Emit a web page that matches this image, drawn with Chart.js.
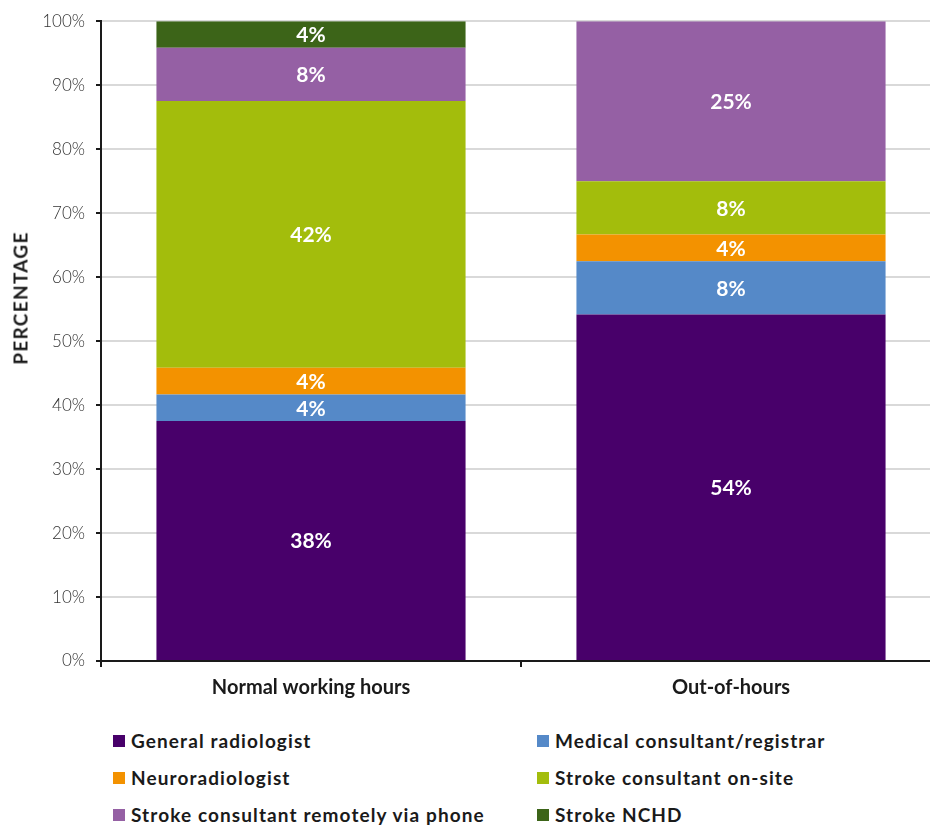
<!DOCTYPE html>
<html>
<head>
<meta charset="utf-8">
<script src="https://cdn.jsdelivr.net/npm/chart.js@4"></script>
<style>
  html, body { margin: 0; padding: 0; background: #fff; overflow: hidden; }
  body { width: 930px; height: 827px; position: relative; font-family: Lato, "Open Sans", sans-serif; }
  #wrap { position: absolute; left: 0; top: 0; width: 945px; height: 712px; }
  #ytitle {
    position: absolute; left: 20px; top: 298px;
    transform: translate(-50%, -50%) rotate(-90deg);
    font-weight: 700; font-size: 19px; letter-spacing: 1.3px; color: #1a1a1a; white-space: nowrap;
  }
  #legend {
    position: absolute; left: 113px; top: 727px;
    display: grid; grid-template-columns: 424px 380px; row-gap: 10px;
  }
  .item { display: flex; align-items: center; height: 27px; font-weight: 700; font-size: 19px; letter-spacing: 1.1px; color: #1a1a1a; }
  .box { width: 12px; height: 12px; margin-right: 6px; flex: none; }
</style>
</head>
<body>
<div id="wrap"><canvas id="chart"></canvas></div>
<div id="ytitle">PERCENTAGE</div>
<div id="legend"></div>
<script>
// Share of respondents (out of 24) per interpreter type, by time of day
const categories = ['Normal working hours', 'Out-of-hours'];
const seriesNames = [
  'General radiologist',
  'Medical consultant/registrar',
  'Neuroradiologist',
  'Stroke consultant on-site',
  'Stroke consultant remotely via phone',
  'Stroke NCHD'
];
const generalRadiologist = [37.5, 54.17];
const medicalConsultant = [4.17, 8.33];
const neuroradiologist = [4.17, 4.17];
const strokeOnSite = [41.67, 8.33];
const strokeRemote = [8.33, 25];
const strokeNCHD = [4.17, 0];
const yTicks = [0, 10, 20, 30, 40, 50, 60, 70, 80, 90, 100];

const colors = ['#48006a', '#5589c8', '#f39200', '#a3bd0c', '#9560a4', '#3c6418'];
const seriesValues = [generalRadiologist, medicalConsultant, neuroradiologist, strokeOnSite, strokeRemote, strokeNCHD];

// white percentage labels in the middle of each segment
const segmentLabels = {
  id: 'segmentLabels',
  afterDatasetsDraw(chart) {
    const ctx = chart.ctx;
    ctx.save();
    ctx.font = '700 21px Lato, sans-serif';
    ctx.fillStyle = '#ffffff';
    ctx.textAlign = 'center';
    ctx.textBaseline = 'middle';
    chart.data.datasets.forEach((ds, i) => {
      chart.getDatasetMeta(i).data.forEach((bar, j) => {
        const v = ds.data[j];
        if (!v) return;
        const y = (bar.y + bar.base) / 2;
        ctx.fillText(Math.round(v) + '%', bar.x, y + 1);
      });
    });
    ctx.restore();
  }
};

new Chart(document.getElementById('chart'), {
  type: 'bar',
  data: {
    labels: categories,
    datasets: seriesNames.map((name, i) => ({
      label: name,
      data: seriesValues[i],
      backgroundColor: colors[i],
      borderWidth: 0,
      categoryPercentage: 1,
      barPercentage: 0.736
    }))
  },
  options: {
    responsive: true,
    maintainAspectRatio: false,
    animation: false,
    layout: { padding: { top: 18, right: 4, left: 0, bottom: 0 } },
    plugins: { legend: { display: false }, tooltip: { enabled: false } },
    scales: {
      x: {
        stacked: true,
        offset: true,
        grid: { offset: true, drawOnChartArea: false, color: '#1a1a1a', tickLength: 6, lineWidth: 2 },
        border: { color: '#1a1a1a', width: 2 },
        ticks: { color: '#1a1a1a', font: { family: 'Lato', size: 20, weight: '700' }, padding: 9 },
        afterFit(scale) { scale.height = 51; }
      },
      y: {
        stacked: true,
        min: 0,
        max: 100,
        afterBuildTicks(scale) { scale.ticks = yTicks.map(v => ({ value: v })); },
        grid: { color: '#d9d9d9', lineWidth: 2, tickLength: 5, tickColor: '#1a1a1a', drawTicks: true },
        border: { color: '#1a1a1a', width: 2 },
        ticks: {
          color: '#333333',
          font: { family: 'Lato', size: 17, weight: '300' },
          padding: 11,
          callback: v => v + '%'
        },
        afterFit(scale) { scale.width = 101; }
      }
    }
  },
  plugins: [segmentLabels]
});

// legend in two columns, built from the series
const legend = document.getElementById('legend');
seriesNames.forEach((name, i) => {
  const item = document.createElement('div');
  item.className = 'item';
  item.innerHTML = '<span class="box" style="background:' + colors[i] + '"></span>' + name;
  legend.appendChild(item);
});
</script>
</body>
</html>
